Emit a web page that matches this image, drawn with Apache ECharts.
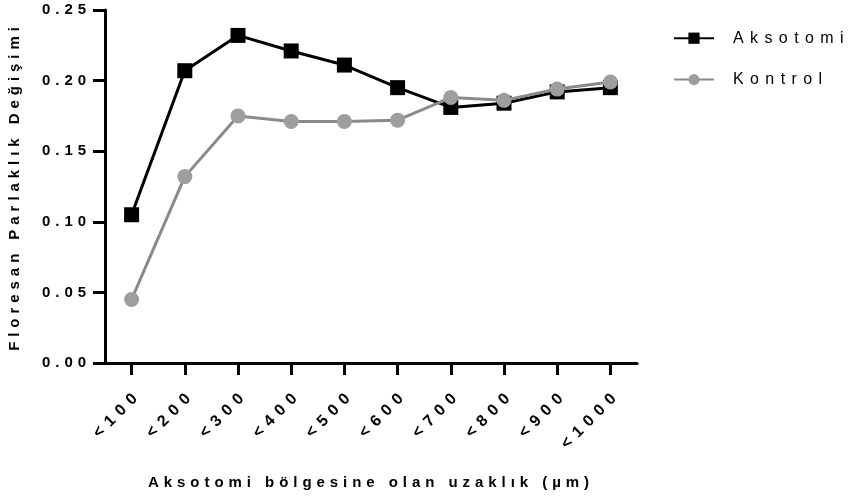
<!DOCTYPE html>
<html>
<head>
<meta charset="utf-8">
<script src="https://cdn.jsdelivr.net/npm/echarts@6/dist/echarts.min.js"></script>
<style>
html,body{margin:0;padding:0;background:#fff;}
#chart{width:854px;height:503px;}
</style>
</head>
<body>
<div id="chart"></div>
<script>
const categories = ['<100','<200','<300','<400','<500','<600','<700','<800','<900','<1000'];
const aksotomi = [0.105, 0.207, 0.232, 0.221, 0.211, 0.195, 0.181, 0.184, 0.192, 0.195];
const kontrol  = [0.045, 0.132, 0.175, 0.171, 0.171, 0.172, 0.188, 0.186, 0.194, 0.199];
const yTicks = [0, 0.05, 0.10, 0.15, 0.20, 0.25];

// wide letter spacing like the original (Prism export style)
(function(){
  const P = CanvasRenderingContext2D.prototype;
  if (!('letterSpacing' in P)) return;
  const setLS = ctx => {
    const m = /(\d+(?:\.\d+)?)px/.exec(ctx.font || '');
    const size = m ? parseFloat(m[1]) : 12;
    const k = size >= 16 ? 0.4 : 0.33;
    ctx.letterSpacing = (k * size).toFixed(2) + 'px';
  };
  ['fillText','strokeText','measureText'].forEach(fn => {
    const orig = P[fn];
    P[fn] = function(){ setLS(this); const r = orig.apply(this, arguments); this.letterSpacing = '0px'; return r; };
  });
})();

const FONT = 'Liberation Sans, Arial, Helvetica, sans-serif';
const chart = echarts.init(document.getElementById('chart'), null, {renderer:'canvas'});
chart.setOption({
  animation:false,
  backgroundColor:'#fff',
  grid:{left:105, right:217, top:10, bottom:140, containLabel:false, outerBoundsMode:'none'},
  legend:{
    orient:'vertical', left:673, top:27, padding:0,
    itemWidth:40, itemHeight:14, itemGap:19,
    textStyle:{fontFamily:FONT, fontSize:16, color:'#000', padding:[0,0,0,14]},
    data:['Aksotomi','Kontrol']
  },
  xAxis:{
    type:'category', data:categories, boundaryGap:true,
    axisLine:{show:true, lineStyle:{color:'#000', width:3}},
    axisTick:{show:true, alignWithLabel:true, length:12, lineStyle:{color:'#000', width:3}},
    axisLabel:{rotate:45, margin:21, verticalAlign:'top', interval:0, color:'#000', fontFamily:FONT, fontWeight:'bold', fontSize:16},
    name:'Aksotomi bölgesine olan uzaklık (µm)', nameLocation:'middle', nameGap:110,
    nameTextStyle:{fontFamily:FONT, fontWeight:'bold', fontSize:15, color:'#000'}
  },
  yAxis:{
    type:'value', min:yTicks[0], max:yTicks[yTicks.length-1], interval:0.05,
    splitLine:{show:false},
    axisLine:{show:true, lineStyle:{color:'#000', width:3}},
    axisTick:{show:true, length:12, lineStyle:{color:'#000', width:3}},
    axisLabel:{margin:14, color:'#000', fontFamily:FONT, fontWeight:'bold', fontSize:15,
      formatter:v=>v.toFixed(2)},
    name:'Floresan Parlaklık Değişimi', nameLocation:'middle', nameGap:80, nameRotate:90,
    nameTextStyle:{fontFamily:FONT, fontWeight:'bold', fontSize:15, color:'#000'}
  },
  series:[
    {name:'Kontrol', type:'line', data:kontrol, symbol:'circle', symbolSize:15,
     lineStyle:{color:'#8a8a8a', width:3}, itemStyle:{color:'#9e9e9e'}, z:2},
    {name:'Aksotomi', type:'line', data:aksotomi, symbol:'rect', symbolSize:15,
     lineStyle:{color:'#000', width:3}, itemStyle:{color:'#000'}, z:1}
  ]
});
</script>
</body>
</html>
